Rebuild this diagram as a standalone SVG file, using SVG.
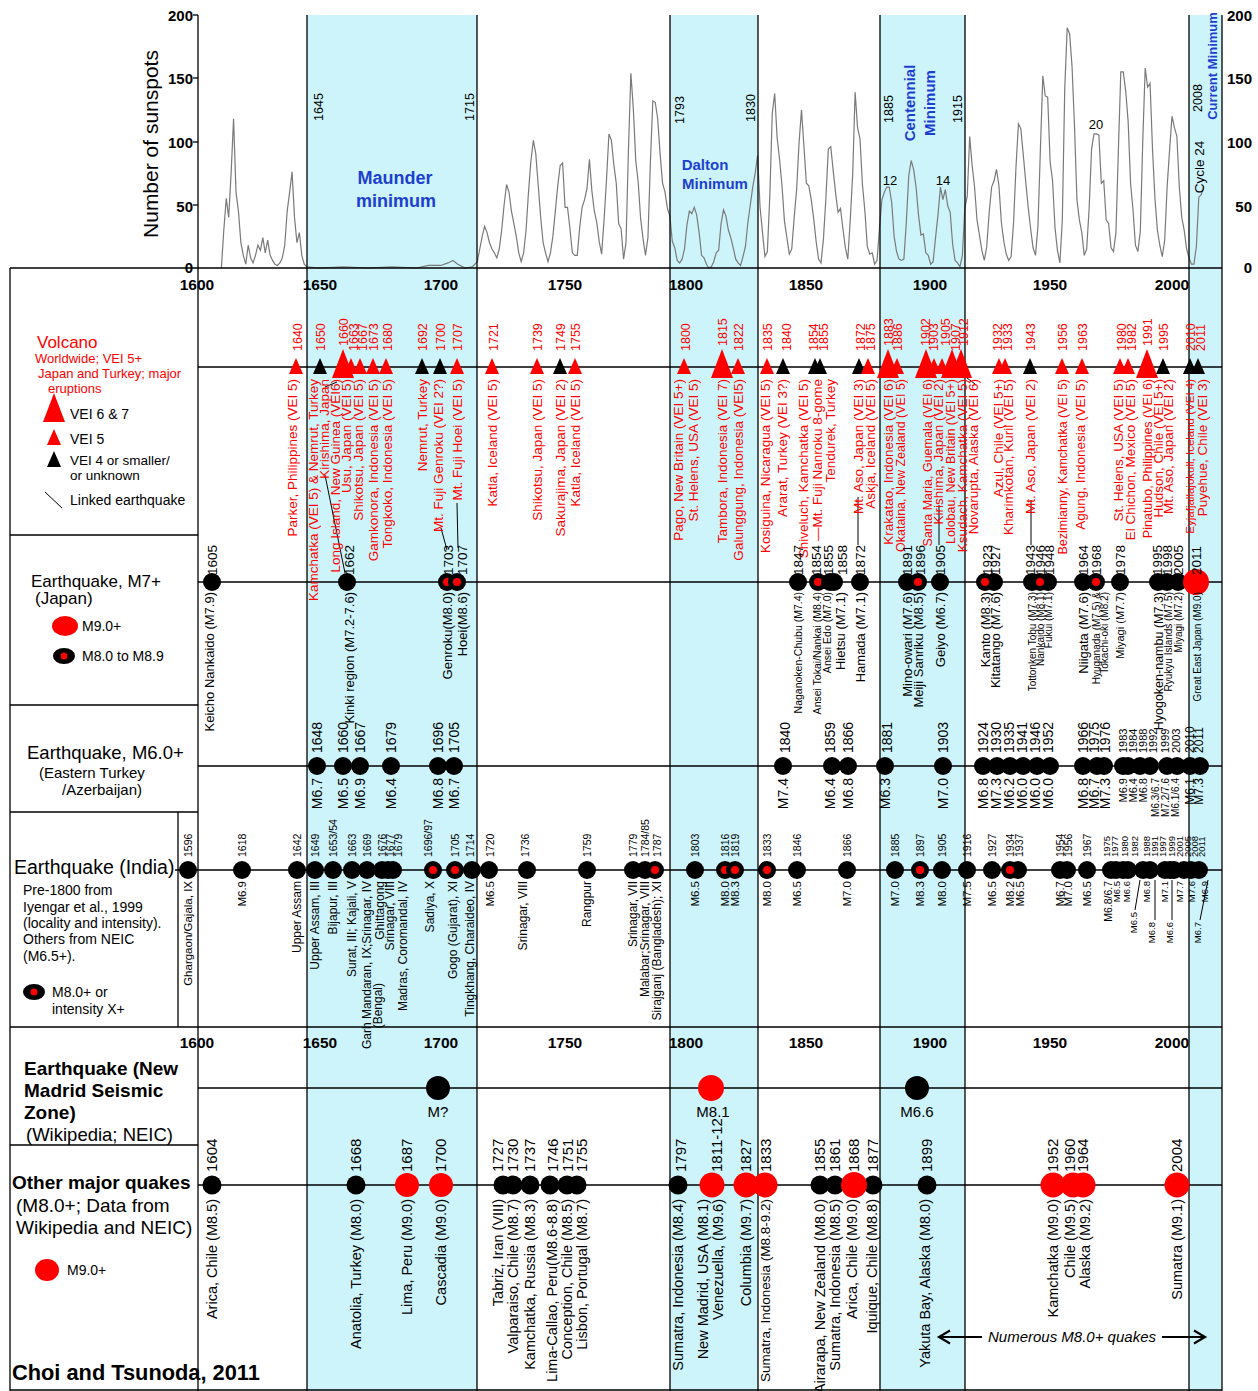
<svg xmlns="http://www.w3.org/2000/svg" xmlns:xlink="http://www.w3.org/1999/xlink" width="1258" height="1391" viewBox="0 0 1258 1391">
<style>
text{font-family:"Liberation Sans",Arial,Helvetica,sans-serif;fill:#000}
.r{fill:#f00}
.e{text-anchor:end}
.m{text-anchor:middle}
.b{font-weight:bold}
.bl{fill:#1d3fcf;font-weight:bold}
.ln{stroke:#000;stroke-width:1.3;fill:none}
.lk{stroke:#000;stroke-width:1;fill:none}
.sh{fill:#cdf4fa}
.f9{font-size:9.5px}.f10{font-size:10px}.f105{font-size:10.5px}.f11{font-size:11px}.f115{font-size:11.5px}.f12{font-size:12px}.f125{font-size:12.5px}.f13{font-size:13px}.f135{font-size:13.5px}.f14{font-size:14px}.f145{font-size:14.5px}.f15{font-size:15px}.f155{font-size:15.5px}.f16{font-size:16px}.f17{font-size:17px}.f18{font-size:18px}.f185{font-size:18.5px}.f19{font-size:19px}.f195{font-size:19.5px}.f20{font-size:20px}.f21{font-size:21px}.f22{font-size:21.8px}
</style>
<defs>
<path id="tS" d="M0,-9 L7,7 L-7,7Z"/>
<path id="tB" d="M0,-18 L11,11 L-11,11Z"/>
<circle id="d9" r="9"/>
<g id="m8"><circle r="9" fill="#000"/><circle r="4" fill="#f00"/></g>
<marker id="arr" markerWidth="16" markerHeight="16" refX="13" refY="8" orient="auto" markerUnits="userSpaceOnUse"><path d="M2,1.5 L13,8 L2,14.5" fill="none" stroke="#000" stroke-width="2.2"/></marker>
</defs>
<rect width="1258" height="1391" fill="#fff"/>

<g id="shading">
<rect class="sh" x="307" y="15" width="170" height="1376"/>
<rect class="sh" x="670" y="15" width="88" height="1376"/>
<rect class="sh" x="880" y="15" width="85" height="1376"/>
<rect class="sh" x="1189" y="15" width="33" height="1376"/>
</g>

<g id="sunspots">
<polyline transform="translate(197 268) scale(2.4375 -1.265)" fill="none" stroke="#7a7a7a" stroke-width="1.2" vector-effect="non-scaling-stroke" points="10,0 11,30 12,55 13,40 14,75 15,118 16,60 17,45 18,20 19,10 20,3 21,18 22,8 23,4 24,10 25,18 26,14 27,24 28,12 29,22 30,10 31,6 32,3 33,2 34,4 35,8 36,18 37,45 38,60 39,76 40,40 41,20 42,28 43,10 44,3 45,1 50,0 60,1 70,0 80,1 90,0 95,2 100,2 103,4 105,6 107,3 110,0 113,1 115,5 116,15 117,25 118,33 119,28 120,20 121,15 122,12 123,8 124,15 125,30 126,50 127,66 128,60 129,45 130,35 131,25 132,12 133,5 134,12 135,30 136,60 137,85 138,101 139,90 140,65 141,40 142,20 143,12 144,5 145,12 146,25 147,45 148,65 149,81 150,83 151,48 152,48 153,31 154,12 155,10 156,10 157,32 158,48 159,54 160,63 161,86 162,61 163,45 164,36 165,21 166,11 167,38 168,70 169,106 170,101 171,82 172,67 173,35 174,31 175,7 176,20 177,93 178,154 179,126 180,85 181,68 182,39 183,23 184,10 185,24 186,83 187,132 188,131 189,118 190,90 191,67 192,60 193,47 194,41 195,21 196,16 197,6 198,4 199,7 200,15 201,34 202,45 203,43 204,48 205,42 206,28 207,10 208,8 209,3 210,0 211,1 212,5 213,12 214,14 215,35 216,46 217,41 218,30 219,24 220,16 221,7 222,4 223,2 224,9 225,17 226,36 227,50 228,64 229,75 230,89 231,48 232,28 233,9 234,13 235,57 236,122 237,138 238,103 239,86 240,65 241,37 242,24 243,11 244,15 245,40 246,62 247,99 248,125 249,96 250,67 251,65 252,54 253,39 254,21 255,7 256,4 257,23 258,55 259,94 260,96 261,77 262,59 263,44 264,47 265,31 266,16 267,7 268,38 269,74 270,139 271,111 272,102 273,66 274,45 275,17 276,11 277,12 278,3 279,6 280,32 281,54 282,60 283,64 284,64 285,52 286,25 287,13 288,7 289,6 290,7 291,36 292,73 293,85 294,78 295,64 296,42 297,26 298,27 299,12 300,10 301,3 302,5 303,24 304,42 305,64 306,54 307,62 308,49 309,44 310,19 311,6 312,4 313,1 314,10 315,47 316,57 317,104 318,81 319,64 320,38 321,26 322,14 323,6 324,17 325,44 326,64 327,69 328,78 329,65 330,36 331,21 332,11 333,6 334,9 335,36 336,80 337,114 338,110 339,89 340,68 341,48 342,31 343,16 344,10 345,33 346,93 347,152 348,136 349,135 350,84 351,69 352,32 353,14 354,4 355,38 356,142 357,190 358,185 359,159 360,112 361,54 362,38 363,28 364,10 365,15 366,47 367,94 368,106 369,106 370,105 371,67 372,69 373,38 374,35 375,16 376,13 377,28 378,93 379,155 380,155 381,140 382,116 383,67 384,46 385,18 386,13 387,29 388,100 389,158 390,143 391,146 392,94 393,55 394,30 395,18 396,9 397,22 398,64 399,93 400,120 401,111 402,104 403,64 404,40 405,30 406,15 407,8 408,3 409,3 410,17 411,56 412,58 413,65"/>
</g>

<g id="frame">
<line class="ln" x1="198" y1="15" x2="198" y2="1391"/>
<line class="ln" x1="307" y1="15" x2="307" y2="1391"/>
<line class="ln" x1="477" y1="15" x2="477" y2="1391"/>
<line class="ln" x1="670" y1="15" x2="670" y2="1391"/>
<line class="ln" x1="758" y1="15" x2="758" y2="1391"/>
<line class="ln" x1="880" y1="15" x2="880" y2="1391"/>
<line class="ln" x1="965" y1="15" x2="965" y2="1391"/>
<line class="ln" x1="1189" y1="15" x2="1189" y2="1391"/>
<line class="ln" x1="1222" y1="15" x2="1222" y2="1391"/>
<line class="ln" x1="193" y1="15" x2="198" y2="15"/>
<line class="ln" x1="193" y1="78" x2="198" y2="78"/>
<line class="ln" x1="193" y1="142" x2="198" y2="142"/>
<line class="ln" x1="193" y1="205" x2="198" y2="205"/>
<line class="ln" x1="10" y1="268" x2="1222" y2="268"/>
<line class="ln" x1="198" y1="367" x2="1222" y2="367"/>
<line class="ln" x1="198" y1="582" x2="1222" y2="582"/>
<line class="ln" x1="198" y1="766" x2="1222" y2="766"/>
<line class="ln" x1="175" y1="870" x2="1222" y2="870"/>
<line class="ln" x1="10" y1="1027" x2="1222" y2="1027"/>
<line class="ln" x1="198" y1="1088" x2="1222" y2="1088"/>
<line class="ln" x1="198" y1="1185" x2="1222" y2="1185"/>
<line class="ln" x1="10" y1="1390" x2="1222" y2="1390"/>
<line class="ln" x1="10" y1="268" x2="10" y2="1391"/>
<line class="ln" x1="10" y1="535" x2="198" y2="535"/>
<line class="ln" x1="10" y1="705" x2="198" y2="705"/>
<line class="ln" x1="10" y1="812" x2="198" y2="812"/>
<line class="ln" x1="178" y1="812" x2="178" y2="1027"/>
<line class="ln" x1="10" y1="1145" x2="198" y2="1145"/>
</g>

<g id="plot-labels">
<text class="f21 m" transform="translate(158 144) rotate(-90)">Number of sunspots</text>
<text class="f15 b e" x="193" y="21">200</text>
<text class="f15 b e" x="193" y="84">150</text>
<text class="f15 b e" x="193" y="148">100</text>
<text class="f15 b e" x="193" y="212">50</text>
<text class="f15 b e" x="193" y="273">0</text>
<text class="f15 b e" x="1252" y="21">200</text>
<text class="f15 b e" x="1252" y="84">150</text>
<text class="f15 b e" x="1252" y="148">100</text>
<text class="f15 b e" x="1252" y="212">50</text>
<text class="f15 b e" x="1252" y="273">0</text>
<text class="f155 b m" x="197" y="290">1600</text>
<text class="f155 b m" x="320" y="290">1650</text>
<text class="f155 b m" x="441" y="290">1700</text>
<text class="f155 b m" x="565" y="290">1750</text>
<text class="f155 b m" x="686" y="290">1800</text>
<text class="f155 b m" x="806" y="290">1850</text>
<text class="f155 b m" x="930" y="290">1900</text>
<text class="f155 b m" x="1050" y="290">1950</text>
<text class="f155 b m" x="1172" y="290">2000</text>
<text class="f155 b m" x="197" y="1048">1600</text>
<text class="f155 b m" x="320" y="1048">1650</text>
<text class="f155 b m" x="441" y="1048">1700</text>
<text class="f155 b m" x="565" y="1048">1750</text>
<text class="f155 b m" x="686" y="1048">1800</text>
<text class="f155 b m" x="806" y="1048">1850</text>
<text class="f155 b m" x="930" y="1048">1900</text>
<text class="f155 b m" x="1050" y="1048">1950</text>
<text class="f155 b m" x="1172" y="1048">2000</text>
<text class="f125 m" transform="translate(322.5 107) rotate(-90)">1645</text>
<text class="f125 m" transform="translate(473.5 107) rotate(-90)">1715</text>
<text class="f125 m" transform="translate(683.5 110) rotate(-90)">1793</text>
<text class="f125 m" transform="translate(754.5 108) rotate(-90)">1830</text>
<text class="f125 m" transform="translate(892.5 109) rotate(-90)">1885</text>
<text class="f125 m" transform="translate(961.5 109) rotate(-90)">1915</text>
<text class="f125 m" transform="translate(1201.5 98) rotate(-90)">2008</text>
<text class="f135 m" transform="translate(1204 167) rotate(-90)">Cycle 24</text>
<text class="bl f13 m" transform="translate(1217 66) rotate(-90)">Current Minimum</text>
<text class="bl f15 m" transform="translate(915 103) rotate(-90)">Centennial</text>
<text class="bl f15 m" transform="translate(935 103) rotate(-90)">Minimum</text>
<text class="bl f18 m" x="395" y="184">Maunder</text>
<text class="bl f18 m" x="396" y="207">minimum</text>
<text class="bl f15 m" x="705" y="170">Dalton</text>
<text class="bl f15 m" x="715" y="189">Minimum</text>
<text class="f13 m" x="890" y="185">12</text>
<text class="f13 m" x="943" y="185">14</text>
<text class="f13 m" x="1096" y="129">20</text>
</g>

<g id="legend">
<text class="r f17" x="37" y="348">Volcano</text>
<text class="r f13" x="35" y="363">Worldwide; VEI 5+</text>
<text class="r f13" x="38" y="378">Japan and Turkey; major</text>
<text class="r f13" x="48" y="393">eruptions</text>
<use href="#tB" x="54" y="411" fill="#f00"/>
<text class="f14" x="70" y="419">VEI 6 &amp; 7</text>
<use href="#tS" x="54" y="438" fill="#f00"/>
<text class="f14" x="70" y="444">VEI 5</text>
<use href="#tS" x="54" y="460" fill="#000"/>
<text class="f135" x="70" y="465">VEI 4 or smaller/</text>
<text class="f135" x="70" y="480">or unknown</text>
<line class="lk" x1="45" y1="492" x2="62" y2="508"/>
<text class="f14" x="70" y="505">Linked earthquake</text>
<text class="f17" x="31" y="587">Earthquake, M7+</text>
<text class="f17" x="35" y="604">(Japan)</text>
<ellipse cx="65" cy="626" rx="13" ry="10" fill="#f00"/>
<text class="f14" x="82" y="631">M9.0+</text>
<ellipse cx="64" cy="656" rx="11" ry="8" fill="#000"/>
<circle cx="64" cy="656" r="3.5" fill="#f00"/>
<text class="f14" x="82" y="661">M8.0 to M8.9</text>
<text class="f185" x="27" y="759">Earthquake, M6.0+</text>
<text class="f15" x="39" y="778">(Eastern Turkey</text>
<text class="f15" x="62" y="795">/Azerbaijan)</text>
<text class="f195" x="14" y="874">Earthquake (India)</text>
<text class="f14" x="23" y="895">Pre-1800 from</text>
<text class="f14" x="23" y="912">Iyengar et al., 1999</text>
<text class="f14" x="23" y="928">(locality and intensity).</text>
<text class="f14" x="23" y="944">Others from NEIC</text>
<text class="f14" x="23" y="961">(M6.5+).</text>
<ellipse cx="34" cy="992" rx="11" ry="8" fill="#000"/>
<circle cx="34" cy="992" r="3.5" fill="#f00"/>
<text class="f14" x="52" y="997">M8.0+ or</text>
<text class="f14" x="52" y="1014">intensity X+</text>
<text class="f19 b" x="24" y="1075">Earthquake (New</text>
<text class="f19 b" x="24" y="1097">Madrid Seismic</text>
<text class="f19 b" x="24" y="1119">Zone)</text>
<text class="f185" x="26" y="1141">(Wikipedia; NEIC)</text>
<text class="f19 b" x="12" y="1189">Other major quakes</text>
<text class="f19" x="16" y="1212">(M8.0+; Data from</text>
<text class="f19" x="16" y="1234">Wikipedia and NEIC)</text>
<ellipse cx="47" cy="1270" rx="12" ry="11" fill="#f00"/>
<text class="f14" x="67" y="1275">M9.0+</text>
<text class="f22 b" x="12" y="1380">Choi and Tsunoda, 2011</text>
</g>

<g id="links">
<line class="lk" x1="325" y1="387" x2="337" y2="382"/>
<line class="lk" x1="325" y1="475" x2="345" y2="573"/>
<line class="lk" x1="441" y1="528" x2="447" y2="550"/>
<line class="lk" x1="457" y1="503" x2="458" y2="548"/>
<line class="lk" x1="858" y1="497" x2="858" y2="545"/>
<line class="lk" x1="939" y1="505" x2="939" y2="545"/>
<line class="lk" x1="1031" y1="500" x2="1031" y2="545"/>
<line class="lk" x1="963" y1="375" x2="975" y2="384"/>
<line class="lk" x1="1135" y1="910" x2="1140" y2="880"/>
<line class="lk" x1="1155" y1="920" x2="1155" y2="880"/>
<line class="lk" x1="1172" y1="920" x2="1172" y2="880"/>
<line class="lk" x1="1200" y1="920" x2="1208" y2="880"/>
<line x1="982" y1="1337" x2="939" y2="1337" stroke="#000" stroke-width="2" marker-end="url(#arr)"/>
<line x1="1162" y1="1337" x2="1205" y2="1337" stroke="#000" stroke-width="2" marker-end="url(#arr)"/>
<text x="1072" y="1342" class="f15 m" font-style="italic">Numerous M8.0+ quakes</text>
</g>

<g id="volcanoes">
<use href="#tS" x="296" y="367" fill="#f00"/>
<use href="#tS" x="320" y="367" fill="#000"/>
<use href="#tB" x="343" y="367" fill="#f00"/>
<use href="#tS" x="351" y="367" fill="#f00"/>
<use href="#tS" x="360" y="367" fill="#f00"/>
<use href="#tS" x="373" y="367" fill="#f00"/>
<use href="#tS" x="386" y="367" fill="#f00"/>
<use href="#tS" x="422" y="367" fill="#000"/>
<use href="#tS" x="440" y="367" fill="#000"/>
<use href="#tS" x="457" y="367" fill="#f00"/>
<use href="#tS" x="492" y="367" fill="#f00"/>
<use href="#tS" x="537" y="367" fill="#f00"/>
<use href="#tS" x="560" y="367" fill="#000"/>
<use href="#tS" x="575" y="367" fill="#f00"/>
<use href="#tS" x="684" y="367" fill="#f00"/>
<use href="#tB" x="722" y="367" fill="#f00"/>
<use href="#tS" x="738" y="367" fill="#f00"/>
<use href="#tS" x="767" y="367" fill="#f00"/>
<use href="#tS" x="783" y="367" fill="#000"/>
<use href="#tS" x="815" y="367" fill="#000"/>
<use href="#tS" x="820" y="367" fill="#000"/>
<use href="#tS" x="859" y="367" fill="#000"/>
<use href="#tS" x="868" y="367" fill="#f00"/>
<use href="#tB" x="888" y="367" fill="#f00"/>
<use href="#tS" x="897" y="367" fill="#f00"/>
<use href="#tB" x="926" y="367" fill="#f00"/>
<use href="#tS" x="934" y="367" fill="#f00"/>
<use href="#tS" x="942" y="367" fill="#f00"/>
<use href="#tB" x="952" y="367" fill="#f00"/>
<use href="#tB" x="961" y="367" fill="#f00"/>
<use href="#tS" x="999" y="367" fill="#f00"/>
<use href="#tS" x="1005" y="367" fill="#f00"/>
<use href="#tS" x="1030" y="367" fill="#000"/>
<use href="#tS" x="1062" y="367" fill="#f00"/>
<use href="#tS" x="1082" y="367" fill="#f00"/>
<use href="#tS" x="1120" y="367" fill="#f00"/>
<use href="#tS" x="1128" y="367" fill="#f00"/>
<use href="#tB" x="1147" y="367" fill="#f00"/>
<use href="#tS" x="1163" y="367" fill="#000"/>
<use href="#tS" x="1190" y="367" fill="#000"/>
<use href="#tS" x="1198" y="367" fill="#000"/>
</g>

<g id="volcano-years" class="f125">
<text class="r" transform="translate(301.5 351) rotate(-90)">1640</text>
<text class="r" transform="translate(324.5 351) rotate(-90)">1650</text>
<text class="r" transform="translate(347.5 346) rotate(-90)">1660</text>
<text class="r" transform="translate(357.5 351) rotate(-90)">1663</text>
<text class="r" transform="translate(366.5 351) rotate(-90)">1667</text>
<text class="r" transform="translate(377.5 351) rotate(-90)">1673</text>
<text class="r" transform="translate(391.5 351) rotate(-90)">1680</text>
<text class="r" transform="translate(426.5 351) rotate(-90)">1692</text>
<text class="r" transform="translate(444.5 351) rotate(-90)">1700</text>
<text class="r" transform="translate(461.5 351) rotate(-90)">1707</text>
<text class="r" transform="translate(497.5 351) rotate(-90)">1721</text>
<text class="r" transform="translate(541.5 351) rotate(-90)">1739</text>
<text class="r" transform="translate(564.5 351) rotate(-90)">1749</text>
<text class="r" transform="translate(579.5 351) rotate(-90)">1755</text>
<text class="r" transform="translate(689.5 351) rotate(-90)">1800</text>
<text class="r" transform="translate(726.5 346) rotate(-90)">1815</text>
<text class="r" transform="translate(742.5 351) rotate(-90)">1822</text>
<text class="r" transform="translate(771.5 351) rotate(-90)">1835</text>
<text class="r" transform="translate(790.5 351) rotate(-90)">1840</text>
<text class="r" transform="translate(817.5 351) rotate(-90)">1854</text>
<text class="r" transform="translate(827.5 351) rotate(-90)">1855</text>
<text class="r" transform="translate(864.5 351) rotate(-90)">1872</text>
<text class="r" transform="translate(874.5 351) rotate(-90)">1875</text>
<text class="r" transform="translate(892.5 346) rotate(-90)">1883</text>
<text class="r" transform="translate(901.5 351) rotate(-90)">1886</text>
<text class="r" transform="translate(929.5 346) rotate(-90)">1902</text>
<text class="r" transform="translate(937.5 351) rotate(-90)">1903</text>
<text class="r" transform="translate(949.5 346) rotate(-90)">1905</text>
<text class="r" transform="translate(959.5 351) rotate(-90)">1907</text>
<text class="r" transform="translate(967.5 346) rotate(-90)">1912</text>
<text class="r" transform="translate(1001.5 351) rotate(-90)">1932</text>
<text class="r" transform="translate(1011.5 351) rotate(-90)">1933</text>
<text class="r" transform="translate(1034.5 351) rotate(-90)">1943</text>
<text class="r" transform="translate(1066.5 351) rotate(-90)">1956</text>
<text class="r" transform="translate(1086.5 351) rotate(-90)">1963</text>
<text class="r" transform="translate(1125.5 351) rotate(-90)">1980</text>
<text class="r" transform="translate(1135.5 351) rotate(-90)">1982</text>
<text class="r" transform="translate(1151.5 346) rotate(-90)">1991</text>
<text class="r" transform="translate(1167.5 351) rotate(-90)">1995</text>
<text class="r" transform="translate(1194.5 351) rotate(-90)">2010</text>
<text class="r" transform="translate(1204.5 351) rotate(-90)">2011</text>
</g>

<g id="volcano-labels" class="f135">
<text class="r e" transform="translate(296.8 379) rotate(-90)">Parker, Philippines (VEI 5)</text>
<text class="r e" transform="translate(317.8 379) rotate(-90)">Kamchatka (VEI 5) &amp; Nemrut, Turkey</text>
<text class="r e" transform="translate(328.8 379) rotate(-90)">Kirishima, Japan</text>
<text class="r e" transform="translate(339.8 379) rotate(-90)">Long Island, New Guinea (VEI6)</text>
<text class="r e" transform="translate(350.8 379) rotate(-90)">Usu, Japan (VEI 5)</text>
<text class="r e" transform="translate(362.8 379) rotate(-90)">Shikotsu, Japan (VEI 5)</text>
<text class="r e" transform="translate(377.8 379) rotate(-90)">Gamkonora, Indonesia (VEI 5)</text>
<text class="r e" transform="translate(391.8 379) rotate(-90)">Tongkoko, Indonesia (VEI 5)</text>
<text class="r e" transform="translate(426.8 379) rotate(-90)">Nemrut, Turkey</text>
<text class="r e" transform="translate(442.8 379) rotate(-90)">Mt. Fuji Genroku (VEI 2?)</text>
<text class="r e" transform="translate(461.8 379) rotate(-90)">Mt. Fuji Hoei (VEI 5)</text>
<text class="r e" transform="translate(496.8 379) rotate(-90)">Katla, Iceland (VEI 5)</text>
<text class="r e" transform="translate(541.8 379) rotate(-90)">Shikotsu, Japan (VEI 5)</text>
<text class="r e" transform="translate(564.8 379) rotate(-90)">Sakurajima, Japan (VEI 2)</text>
<text class="r e" transform="translate(579.8 379) rotate(-90)">Katla, Iceland (VEI 5)</text>
<text class="r e" transform="translate(682.8 379) rotate(-90)">Pago, New Britain (VEI 5+)</text>
<text class="r e" transform="translate(697.8 379) rotate(-90)">St. Helens, USA (VEI 5)</text>
<text class="r e" transform="translate(726.8 379) rotate(-90)">Tambora, Indonesia (VEI 7)</text>
<text class="r e" transform="translate(742.8 379) rotate(-90)">Galunggung, Indonesia (VEI5)</text>
<text class="r e" transform="translate(769.8 379) rotate(-90)">Kosiguina, Nicaragua (VEI 5)</text>
<text class="r e" transform="translate(786.8 379) rotate(-90)">Ararat, Turkey (VEI 3?)</text>
<text class="r e" transform="translate(807.8 379) rotate(-90)">Shiveluch, Kamchatka (VEI 5)</text>
<text class="r e" transform="translate(821.8 379) rotate(-90)">—Mt. Fuji Nanroku 8-gome</text>
<text class="r e" transform="translate(834.8 379) rotate(-90)">Tendurek, Turkey</text>
<text class="r e" transform="translate(862.8 379) rotate(-90)">Mt. Aso, Japan (VEI 3)</text>
<text class="r e" transform="translate(874.8 379) rotate(-90)">Askja, Iceland (VEI 5)</text>
<text class="r e" transform="translate(892.8 379) rotate(-90)">Krakatao, Indonesia (VEI 6)</text>
<text class="r e f125" transform="translate(904.5 379) rotate(-90)">Okataina, New Zealand (VEI 5)</text>
<text class="r e f125" transform="translate(931.5 379) rotate(-90)">Santa Maria, Guemala (VEI 6)</text>
<text class="r e" transform="translate(942.8 379) rotate(-90)">Kirishima, Japan (VEI 2)</text>
<text class="r e f125" transform="translate(954.5 379) rotate(-90)">Lolobau, New Britain (VEI 5+)</text>
<text class="r e" transform="translate(966.8 379) rotate(-90)">Ksudach, Kamchatka (VEI 5)</text>
<text class="r e" transform="translate(977.8 379) rotate(-90)">Novarupta, Alaska (VEI 6)</text>
<text class="r e" transform="translate(1002.8 379) rotate(-90)">Azul, Chile (VEI 5+)</text>
<text class="r e" transform="translate(1012.8 379) rotate(-90)">Kharimkotan, Kuril (VEI 5)</text>
<text class="r e" transform="translate(1034.8 379) rotate(-90)">Mt. Aso, Japan (VEI 2)</text>
<text class="r e f125" transform="translate(1066.5 379) rotate(-90)">Bezimianny, Kamchatka (VEI 5)</text>
<text class="r e" transform="translate(1084.8 379) rotate(-90)">Agung, Indonesia (VEI 5)</text>
<text class="r e" transform="translate(1122.8 379) rotate(-90)">St. Helens, USA (VEI 5)</text>
<text class="r e" transform="translate(1134.8 379) rotate(-90)">El Chichon, Mexico (VEI 5)</text>
<text class="r e f125" transform="translate(1151.5 379) rotate(-90)">Pinatubo, Philippines (VEI 6)</text>
<text class="r e" transform="translate(1162.8 379) rotate(-90)">Hudson, Chile (VEI 5+)</text>
<text class="r e" transform="translate(1172.8 379) rotate(-90)">Mt. Aso, Japan (VEI 2)</text>
<text class="r e f115" transform="translate(1194.2 379) rotate(-90)">Eyjafjallajokull, Iceland (VEI 4)</text>
<text class="r e" transform="translate(1206.8 379) rotate(-90)">Puyehue, Chile (VEI 3)</text>
</g>

<g id="japan">
<use href="#d9" x="212" y="582"/>
<use href="#d9" x="347" y="582"/>
<use href="#m8" x="447" y="582"/>
<use href="#m8" x="457" y="582"/>
<use href="#d9" x="798" y="582"/>
<use href="#m8" x="818" y="582"/>
<use href="#d9" x="830" y="582"/>
<use href="#d9" x="834" y="582"/>
<use href="#d9" x="860" y="582"/>
<use href="#d9" x="907" y="582"/>
<use href="#m8" x="918" y="582"/>
<use href="#d9" x="940" y="582"/>
<use href="#d9" x="994" y="582"/>
<use href="#m8" x="985" y="582"/>
<use href="#d9" x="1032" y="582"/>
<use href="#d9" x="1048" y="582"/>
<use href="#m8" x="1040" y="582"/>
<use href="#d9" x="1083" y="582"/>
<use href="#m8" x="1096" y="582"/>
<use href="#d9" x="1120" y="582"/>
<use href="#d9" x="1158" y="582"/>
<use href="#d9" x="1167" y="582"/>
<use href="#d9" x="1178" y="582"/>
<circle cx="1196" cy="582" r="13" fill="#f00"/>
<g class="f135">
<text transform="translate(216.9 575) rotate(-90)">1605</text>
<text transform="translate(353.9 575) rotate(-90)">1662</text>
<text transform="translate(452.9 575) rotate(-90)">1703</text>
<text transform="translate(466.9 575) rotate(-90)">1707</text>
<text transform="translate(802.9 575) rotate(-90)">1847</text>
<text transform="translate(820.9 575) rotate(-90)">1854</text>
<text transform="translate(832.9 575) rotate(-90)">1855</text>
<text transform="translate(846.9 575) rotate(-90)">1858</text>
<text transform="translate(864.9 575) rotate(-90)">1872</text>
<text transform="translate(911.9 575) rotate(-90)">1891</text>
<text transform="translate(924.9 575) rotate(-90)">1896</text>
<text transform="translate(944.9 575) rotate(-90)">1905</text>
<text transform="translate(991.9 575) rotate(-90)">1923</text>
<text transform="translate(999.9 575) rotate(-90)">1927</text>
<text transform="translate(1034.9 575) rotate(-90)">1943</text>
<text transform="translate(1044.9 575) rotate(-90)">1946</text>
<text transform="translate(1053.9 575) rotate(-90)">1948</text>
<text transform="translate(1087.9 575) rotate(-90)">1964</text>
<text transform="translate(1100.9 575) rotate(-90)">1968</text>
<text transform="translate(1124.9 575) rotate(-90)">1978</text>
<text transform="translate(1161.9 575) rotate(-90)">1995</text>
<text transform="translate(1171.9 575) rotate(-90)">1998</text>
<text transform="translate(1182.9 575) rotate(-90)">2005</text>
<text transform="translate(1200.9 575) rotate(-90)">2011</text>
</g>
<text class="f13 e" transform="translate(213.7 592) rotate(-90)">Keicho Nankaido (M7.9)</text>
<text class="f13 e" transform="translate(353.7 592) rotate(-90)">Kinki region (M7.2-7.6)</text>
<text class="f13 e" transform="translate(451.7 592) rotate(-90)">Genroku(M8.0)</text>
<text class="f13 e" transform="translate(466.7 592) rotate(-90)">Hoei(M8.6)</text>
<text class="f105 e" transform="translate(801.8 592) rotate(-90)">Naganoken-Chubu (M7.4)</text>
<text class="f105 e" transform="translate(820.8 592) rotate(-90)">Ansei Tokai/Nankai (M8.4)</text>
<text class="f105 e" transform="translate(830.8 592) rotate(-90)">Ansei Edo (M7.0)</text>
<text class="f13 e" transform="translate(844.7 592) rotate(-90)">Hietsu (M7.1)</text>
<text class="f13 e" transform="translate(864.7 592) rotate(-90)">Hamada (M7.1)</text>
<text class="f13 e" transform="translate(911.7 592) rotate(-90)">Mino-owari (M7.6)</text>
<text class="f13 e" transform="translate(922.7 592) rotate(-90)">Meiji Sanriku (M8.5)</text>
<text class="f13 e" transform="translate(944.7 592) rotate(-90)">Geiyo (M6.7)</text>
<text class="f13 e" transform="translate(989.7 592) rotate(-90)">Kanto (M8.3)</text>
<text class="f13 e" transform="translate(999.7 592) rotate(-90)">Kitatango (M7.6)</text>
<text class="f10 e" transform="translate(1035.6 592) rotate(-90)">Tottonken Tobu (M7.3)</text>
<text class="f10 e" transform="translate(1043.6 592) rotate(-90)">Nankaido (M8.1)</text>
<text class="f10 e" transform="translate(1051.6 592) rotate(-90)">Fukui (M7.1)</text>
<text class="f13 e" transform="translate(1087.7 592) rotate(-90)">Niigata (M7.6)</text>
<text class="f10 e" transform="translate(1099.6 592) rotate(-90)">Hyuganada (M7.5) &amp;</text>
<text class="f10 e" transform="translate(1107.6 592) rotate(-90)">Tokachi-oki (M8.2)</text>
<text class="f11 e" transform="translate(1124 592) rotate(-90)">Miyagi (M7.7)</text>
<text class="f125 e" transform="translate(1162.5 592) rotate(-90)">Hyogoken-nambu (M7.3)</text>
<text class="f10 e" transform="translate(1171.6 592) rotate(-90)">Ryukyu Islands (M7.5)</text>
<text class="f10 e" transform="translate(1181.6 592) rotate(-90)">Miyagi (M7.2)</text>
<text class="f10 e" transform="translate(1200.6 592) rotate(-90)">Great East Japan (M9.0)</text>
</g>

<g id="turkey">
<use href="#d9" x="317" y="766"/><use href="#d9" x="343" y="766"/><use href="#d9" x="360" y="766"/><use href="#d9" x="391" y="766"/><use href="#d9" x="438" y="766"/><use href="#d9" x="454" y="766"/>
<use href="#d9" x="783" y="766"/><use href="#d9" x="832" y="766"/><use href="#d9" x="848" y="766"/><use href="#d9" x="885" y="766"/><use href="#d9" x="943" y="766"/>
<use href="#d9" x="983" y="766"/><use href="#d9" x="997" y="766"/><use href="#d9" x="1010" y="766"/><use href="#d9" x="1023" y="766"/><use href="#d9" x="1037" y="766"/><use href="#d9" x="1050" y="766"/>
<use href="#d9" x="1083" y="766"/><use href="#d9" x="1097" y="766"/><use href="#d9" x="1104" y="766"/>
<use href="#d9" x="1123" y="766"/><use href="#d9" x="1128" y="766"/><use href="#d9" x="1140" y="766"/><use href="#d9" x="1150" y="766"/><use href="#d9" x="1167" y="766"/><use href="#d9" x="1177" y="766"/><use href="#d9" x="1190" y="766"/><use href="#d9" x="1200" y="766"/>
<g class="f14">
<text transform="translate(322 753) rotate(-90)">1648</text>
<text transform="translate(348 753) rotate(-90)">1660</text>
<text transform="translate(365 753) rotate(-90)">1667</text>
<text transform="translate(396 753) rotate(-90)">1679</text>
<text transform="translate(443 753) rotate(-90)">1696</text>
<text transform="translate(459 753) rotate(-90)">1705</text>
<text transform="translate(790 753) rotate(-90)">1840</text>
<text transform="translate(835 753) rotate(-90)">1859</text>
<text transform="translate(853 753) rotate(-90)">1866</text>
<text transform="translate(892 753) rotate(-90)">1881</text>
<text transform="translate(948 753) rotate(-90)">1903</text>
<text transform="translate(988 753) rotate(-90)">1924</text>
<text transform="translate(1001 753) rotate(-90)">1930</text>
<text transform="translate(1014 753) rotate(-90)">1935</text>
<text transform="translate(1027 753) rotate(-90)">1941</text>
<text transform="translate(1040 753) rotate(-90)">1946</text>
<text transform="translate(1053 753) rotate(-90)">1952</text>
<text transform="translate(1088 753) rotate(-90)">1966</text>
<text transform="translate(1099 753) rotate(-90)">1975</text>
<text transform="translate(1110 753) rotate(-90)">1976</text>
<text class="e" transform="translate(322 778) rotate(-90)">M6.7</text>
<text class="e" transform="translate(348 778) rotate(-90)">M6.5</text>
<text class="e" transform="translate(365 778) rotate(-90)">M6.9</text>
<text class="e" transform="translate(396 778) rotate(-90)">M6.4</text>
<text class="e" transform="translate(443 778) rotate(-90)">M6.8</text>
<text class="e" transform="translate(459 778) rotate(-90)">M6.7</text>
<text class="e" transform="translate(788 778) rotate(-90)">M7.4</text>
<text class="e" transform="translate(835 778) rotate(-90)">M6.4</text>
<text class="e" transform="translate(853 778) rotate(-90)">M6.8</text>
<text class="e" transform="translate(890 778) rotate(-90)">M6.3</text>
<text class="e" transform="translate(948 778) rotate(-90)">M7.0</text>
<text class="e" transform="translate(988 778) rotate(-90)">M6.8</text>
<text class="e" transform="translate(1001 778) rotate(-90)">M7.3</text>
<text class="e" transform="translate(1014 778) rotate(-90)">M6.2</text>
<text class="e" transform="translate(1027 778) rotate(-90)">M6.0</text>
<text class="e" transform="translate(1040 778) rotate(-90)">M6.0</text>
<text class="e" transform="translate(1053 778) rotate(-90)">M6.0</text>
<text class="e" transform="translate(1088 778) rotate(-90)">M6.8</text>
<text class="e" transform="translate(1099 778) rotate(-90)">M6.7</text>
<text class="e" transform="translate(1110 778) rotate(-90)">M7.3</text>
</g>
<g class="f11">
<text transform="translate(1127 753) rotate(-90)">1983</text>
<text transform="translate(1137 753) rotate(-90)">1984</text>
<text transform="translate(1147 753) rotate(-90)">1988</text>
<text transform="translate(1157 753) rotate(-90)">1992</text>
<text transform="translate(1169 753) rotate(-90)">1999</text>
<text transform="translate(1180 753) rotate(-90)">2003</text>
<text class="e" transform="translate(1127 778) rotate(-90)">M6.9</text>
<text class="e" transform="translate(1137 778) rotate(-90)">M6.4</text>
<text class="e" transform="translate(1147 778) rotate(-90)">M6.8</text>
<text class="e f10" transform="translate(1159 778) rotate(-90)">M6.3/6.7</text>
<text class="e f10" transform="translate(1169 778) rotate(-90)">M7.2/7.6</text>
<text class="e f10" transform="translate(1179 778) rotate(-90)">M6.1/6.4</text>
</g>
<g class="f12">
<text transform="translate(1194.3 753) rotate(-90)">2010</text>
<text transform="translate(1203.3 753) rotate(-90)">2011</text>
<text class="e" transform="translate(1194.3 778) rotate(-90)">M6.1</text>
<text class="e" transform="translate(1203.3 778) rotate(-90)">M7.3</text>
</g>
</g>

<g id="india">
<use href="#d9" x="188" y="870"/><use href="#d9" x="242" y="870"/><use href="#d9" x="297" y="870"/><use href="#d9" x="315" y="870"/><use href="#d9" x="333" y="870"/><use href="#d9" x="352" y="870"/><use href="#d9" x="367" y="870"/><use href="#d9" x="382" y="870"/><use href="#d9" x="388" y="870"/><use href="#d9" x="393" y="870"/>
<use href="#m8" x="433" y="870"/><use href="#m8" x="455" y="870"/><use href="#d9" x="472" y="870"/><use href="#d9" x="489" y="870"/><use href="#d9" x="527" y="870"/><use href="#d9" x="587" y="870"/><use href="#d9" x="633" y="870"/><use href="#d9" x="645" y="870"/><use href="#m8" x="655" y="870"/>
<use href="#d9" x="695" y="870"/><use href="#m8" x="725" y="870"/><use href="#m8" x="735" y="870"/><use href="#m8" x="767" y="870"/><use href="#d9" x="797" y="870"/><use href="#d9" x="847" y="870"/>
<use href="#d9" x="895" y="870"/><use href="#m8" x="920" y="870"/><use href="#d9" x="942" y="870"/><use href="#d9" x="967" y="870"/><use href="#d9" x="992" y="870"/><use href="#d9" x="1018" y="870"/><use href="#m8" x="1010" y="870"/>
<use href="#d9" x="1060" y="870"/><use href="#d9" x="1067" y="870"/><use href="#d9" x="1087" y="870"/>
<use href="#d9" x="1111" y="870"/><use href="#d9" x="1116" y="870"/><use href="#d9" x="1123" y="870"/><use href="#d9" x="1128" y="870"/><use href="#d9" x="1143" y="870"/><use href="#d9" x="1150" y="870"/><use href="#d9" x="1165" y="870"/><use href="#d9" x="1170" y="870"/><use href="#d9" x="1174" y="870"/><use href="#d9" x="1184" y="870"/><use href="#d9" x="1191" y="870"/><use href="#d9" x="1199" y="870"/>
<g class="f105">
<text transform="translate(191.8 857) rotate(-90)">1596</text>
<text transform="translate(245.8 857) rotate(-90)">1618</text>
<text transform="translate(300.8 857) rotate(-90)">1642</text>
<text transform="translate(318.8 857) rotate(-90)">1649</text>
<text transform="translate(336.8 857) rotate(-90)">1653/54</text>
<text transform="translate(355.8 857) rotate(-90)">1663</text>
<text transform="translate(370.8 857) rotate(-90)">1669</text>
<text transform="translate(385.8 857) rotate(-90)">1676</text>
<text transform="translate(393.8 857) rotate(-90)">1677</text>
<text transform="translate(401.8 857) rotate(-90)">1679</text>
<text transform="translate(431.8 857) rotate(-90)">1696/97</text>
<text transform="translate(458.8 857) rotate(-90)">1705</text>
<text transform="translate(473.8 857) rotate(-90)">1714</text>
<text transform="translate(493.8 857) rotate(-90)">1720</text>
<text transform="translate(528.8 857) rotate(-90)">1736</text>
<text transform="translate(590.8 857) rotate(-90)">1759</text>
<text transform="translate(636.8 857) rotate(-90)">1779</text>
<text transform="translate(648.8 857) rotate(-90)">1784/85</text>
<text transform="translate(660.8 857) rotate(-90)">1787</text>
<text transform="translate(698.8 857) rotate(-90)">1803</text>
<text transform="translate(728.8 857) rotate(-90)">1816</text>
<text transform="translate(738.8 857) rotate(-90)">1819</text>
<text transform="translate(770.8 857) rotate(-90)">1833</text>
<text transform="translate(800.8 857) rotate(-90)">1846</text>
<text transform="translate(850.8 857) rotate(-90)">1866</text>
<text transform="translate(898.8 857) rotate(-90)">1885</text>
<text transform="translate(923.8 857) rotate(-90)">1897</text>
<text transform="translate(945.8 857) rotate(-90)">1905</text>
<text transform="translate(970.8 857) rotate(-90)">1916</text>
<text transform="translate(995.8 857) rotate(-90)">1927</text>
<text transform="translate(1013.8 857) rotate(-90)">1934</text>
<text transform="translate(1022.8 857) rotate(-90)">1937</text>
<text transform="translate(1063.8 857) rotate(-90)">1954</text>
<text transform="translate(1071.8 857) rotate(-90)">1956</text>
<text transform="translate(1090.8 857) rotate(-90)">1967</text>
</g>
<g class="f9">
<text transform="translate(1110.4 857) rotate(-90)">1975</text>
<text transform="translate(1118.4 857) rotate(-90)">1977</text>
<text transform="translate(1128.4 857) rotate(-90)">1980</text>
<text transform="translate(1138.4 857) rotate(-90)">1982</text>
<text transform="translate(1150.4 857) rotate(-90)">1988</text>
<text transform="translate(1158.4 857) rotate(-90)">1991</text>
<text transform="translate(1166.4 857) rotate(-90)">1997</text>
<text transform="translate(1175.4 857) rotate(-90)">1999</text>
<text transform="translate(1183.4 857) rotate(-90)">2001</text>
<text transform="translate(1191.4 857) rotate(-90)">2005</text>
<text transform="translate(1198.4 857) rotate(-90)">2008</text>
<text transform="translate(1205.4 857) rotate(-90)">2011</text>
</g>
<g class="f12">
<text class="e f115" transform="translate(192.1 881) rotate(-90)">Ghargaon/Gajala, IX</text>
<text class="e" transform="translate(301.3 881) rotate(-90)">Upper Assam</text>
<text class="e" transform="translate(319.3 881) rotate(-90)">Upper Assam, III</text>
<text class="e" transform="translate(337.3 881) rotate(-90)">Bijapur, III</text>
<text class="e" transform="translate(356.3 881) rotate(-90)">Surat, III; Kajali, V</text>
<text class="e" transform="translate(371.3 881) rotate(-90)">Garh Mandaran, IX;Srinagar, IV</text>
<text class="e" transform="translate(382.3 983) rotate(-90)">(Bengal)</text>
<text class="e" transform="translate(384.3 881) rotate(-90)">Ghittagong</text>
<text class="e" transform="translate(394.3 881) rotate(-90)">Srinagar, VIII</text>
<text class="e" transform="translate(407.3 881) rotate(-90)">Madras, Coromandal, IV</text>
<text class="e" transform="translate(434.3 881) rotate(-90)">Sadiya, X</text>
<text class="e" transform="translate(457.3 881) rotate(-90)">Gogo (Gujarat), XI</text>
<text class="e" transform="translate(474.3 881) rotate(-90)">Tingkhang, Charaideo, IV</text>
<text class="e" transform="translate(527.3 881) rotate(-90)">Srinagar, VIII</text>
<text class="e" transform="translate(591.3 881) rotate(-90)">Rangpur</text>
<text class="e" transform="translate(637.3 881) rotate(-90)">Srinagar, VII</text>
<text class="e" transform="translate(649.3 881) rotate(-90)">Malabar;Srinagar, VIII</text>
<text class="e" transform="translate(661.3 881) rotate(-90)">Sirajganj (Bangladesh); XI</text>
</g>
<g class="f115">
<text class="e" transform="translate(246.1 881) rotate(-90)">M6.9</text>
<text class="e" transform="translate(494.1 881) rotate(-90)">M6.5</text>
<text class="e" transform="translate(699.1 881) rotate(-90)">M6.5</text>
<text class="e" transform="translate(729.1 881) rotate(-90)">M8.0</text>
<text class="e" transform="translate(739.1 881) rotate(-90)">M8.3</text>
<text class="e" transform="translate(771.1 881) rotate(-90)">M8.0</text>
<text class="e" transform="translate(801.1 881) rotate(-90)">M6.5</text>
<text class="e" transform="translate(851.1 881) rotate(-90)">M7.0</text>
<text class="e" transform="translate(899.1 881) rotate(-90)">M7.0</text>
<text class="e" transform="translate(924.1 881) rotate(-90)">M8.3</text>
<text class="e" transform="translate(946.1 881) rotate(-90)">M8.0</text>
<text class="e" transform="translate(971.1 881) rotate(-90)">M7.5</text>
<text class="e" transform="translate(996.1 881) rotate(-90)">M6.5</text>
<text class="e" transform="translate(1014.1 881) rotate(-90)">M8.2</text>
<text class="e" transform="translate(1024.1 881) rotate(-90)">M6.5</text>
<text class="e" transform="translate(1064.1 881) rotate(-90)">M6.7</text>
<text class="e" transform="translate(1072.1 881) rotate(-90)">M7.0</text>
<text class="e" transform="translate(1091.1 881) rotate(-90)">M6.5</text>
<text class="e f105" transform="translate(1111.8 881) rotate(-90)">M6.8/6.7</text>
</g>
<g class="f9">
<text class="e" transform="translate(1120.4 881) rotate(-90)">M6.5</text>
<text class="e" transform="translate(1130.4 881) rotate(-90)">M6.6</text>
<text class="e" transform="translate(1137.4 912) rotate(-90)">M6.5</text>
<text class="e" transform="translate(1150.4 881) rotate(-90)">M6.8</text>
<text class="e" transform="translate(1155.4 922) rotate(-90)">M6.8</text>
<text class="e" transform="translate(1168.4 881) rotate(-90)">M7.1</text>
<text class="e" transform="translate(1173.4 922) rotate(-90)">M6.6</text>
<text class="e" transform="translate(1183.4 881) rotate(-90)">M7.7</text>
<text class="e" transform="translate(1195.4 881) rotate(-90)">M7.6</text>
<text class="e" transform="translate(1201.4 922) rotate(-90)">M6.7</text>
<text class="e" transform="translate(1208.4 881) rotate(-90)">M6.9</text>
</g>
</g>

<g id="new-madrid">
<circle cx="438" cy="1088" r="12" fill="#000"/>
<circle cx="711" cy="1088" r="13" fill="#f00"/>
<circle cx="917" cy="1088" r="12" fill="#000"/>
<text class="f15 m" x="438" y="1117">M?</text>
<text class="f15 m" x="713" y="1117">M8.1</text>
<text class="f15 m" x="917" y="1117">M6.6</text>
</g>

<g id="other-quakes">
<circle cx="212" cy="1185" r="9.5"/>
<circle cx="356" cy="1185" r="9.5"/>
<circle cx="407" cy="1185" r="12" fill="#f00"/>
<circle cx="441" cy="1185" r="12" fill="#f00"/>
<circle cx="503" cy="1185" r="9.5"/>
<circle cx="513" cy="1185" r="9.5"/>
<circle cx="530" cy="1185" r="9.5"/>
<circle cx="550" cy="1185" r="9.5"/>
<circle cx="567" cy="1185" r="9.5"/>
<circle cx="577" cy="1185" r="9.5"/>
<circle cx="678" cy="1185" r="9.5"/>
<circle cx="712" cy="1185" r="12.5" fill="#f00"/>
<circle cx="746" cy="1185" r="12.5" fill="#f00"/>
<circle cx="765" cy="1185" r="12.5" fill="#f00"/>
<circle cx="820" cy="1185" r="9.5"/>
<circle cx="835" cy="1185" r="9.5"/>
<circle cx="873" cy="1185" r="9.5"/>
<circle cx="854" cy="1185" r="13" fill="#f00"/>
<circle cx="927" cy="1185" r="9.5"/>
<circle cx="1053" cy="1185" r="12.5" fill="#f00"/>
<circle cx="1073" cy="1185" r="12.5" fill="#f00"/>
<circle cx="1083" cy="1185" r="12.5" fill="#f00"/>
<circle cx="1177" cy="1185" r="12.5" fill="#f00"/>
<g class="f15">
<text transform="translate(217.2 1172) rotate(-90)">1604</text>
<text transform="translate(361.2 1172) rotate(-90)">1668</text>
<text transform="translate(412.2 1172) rotate(-90)">1687</text>
<text transform="translate(446.2 1172) rotate(-90)">1700</text>
<text transform="translate(503.2 1172) rotate(-90)">1727</text>
<text transform="translate(518.2 1172) rotate(-90)">1730</text>
<text transform="translate(535.2 1172) rotate(-90)">1737</text>
<text transform="translate(558.2 1172) rotate(-90)">1746</text>
<text transform="translate(573.2 1172) rotate(-90)">1751</text>
<text transform="translate(587.2 1172) rotate(-90)">1755</text>
<text transform="translate(686.2 1172) rotate(-90)">1797</text>
<text transform="translate(722.2 1172) rotate(-90)">1811-12</text>
<text transform="translate(751.2 1172) rotate(-90)">1827</text>
<text transform="translate(771.2 1172) rotate(-90)">1833</text>
<text transform="translate(825.2 1172) rotate(-90)">1855</text>
<text transform="translate(840.2 1172) rotate(-90)">1861</text>
<text transform="translate(859.2 1172) rotate(-90)">1868</text>
<text transform="translate(878.2 1172) rotate(-90)">1877</text>
<text transform="translate(932.2 1172) rotate(-90)">1899</text>
<text transform="translate(1058.2 1172) rotate(-90)">1952</text>
<text transform="translate(1075.2 1172) rotate(-90)">1960</text>
<text transform="translate(1088.2 1172) rotate(-90)">1964</text>
<text transform="translate(1182.2 1172) rotate(-90)">2004</text>
</g>
<g class="f145">
<text class="e" transform="translate(217.2 1199) rotate(-90)">Arica, Chile (M8.5)</text>
<text class="e" transform="translate(361.2 1199) rotate(-90)">Anatolia, Turkey (M8.0)</text>
<text class="e" transform="translate(412.2 1199) rotate(-90)">Lima, Peru (M9.0)</text>
<text class="e" transform="translate(446.2 1199) rotate(-90)">Cascadia (M9.0)</text>
<text class="e" transform="translate(503.2 1199) rotate(-90)">Tabriz, Iran (VIII)</text>
<text class="e" transform="translate(518.2 1199) rotate(-90)">Valparaiso, Chile (M8.7)</text>
<text class="e" transform="translate(535.2 1199) rotate(-90)">Kamchatka, Russia (M8.3)</text>
<text class="e" transform="translate(557.2 1199) rotate(-90)">Lima-Callao, Peru(M8.6-8.8)</text>
<text class="e" transform="translate(572.2 1199) rotate(-90)">Conception, Chile (M8.5)</text>
<text class="e" transform="translate(587.2 1199) rotate(-90)">Lisbon, Portugal (M8.7)</text>
<text class="e" transform="translate(683.2 1199) rotate(-90)">Sumatra, Indonesia (M8.4)</text>
<text class="e" transform="translate(708.2 1199) rotate(-90)">New Madrid, USA (M8.1)</text>
<text class="e" transform="translate(723.2 1199) rotate(-90)">Venezuella,  (M9.6)</text>
<text class="e" transform="translate(751.2 1199) rotate(-90)">Columbia (M9.7)</text>
<text class="e f135" transform="translate(770 1199) rotate(-90)">Sumatra, Indonesia (M8.8-9.2)</text>
<text class="e" transform="translate(825.2 1199) rotate(-90)">Airarapa, New Zealand (M8.0)</text>
<text class="e" transform="translate(840.2 1199) rotate(-90)">Sumatra, Indonesia (M8.5)</text>
<text class="e" transform="translate(857.2 1199) rotate(-90)">Arica, Chile (M9.0)</text>
<text class="e" transform="translate(877.2 1199) rotate(-90)">Iquique, Chile (M8.8)</text>
<text class="e" transform="translate(930.2 1199) rotate(-90)">Yakuta Bay, Alaska (M8.0)</text>
<text class="e" transform="translate(1058.2 1199) rotate(-90)">Kamchatka (M9.0)</text>
<text class="e" transform="translate(1075.2 1199) rotate(-90)">Chile (M9.5)</text>
<text class="e" transform="translate(1090.2 1199) rotate(-90)">Alaska (M9.2)</text>
<text class="e" transform="translate(1182.2 1199) rotate(-90)">Sumatra (M9.1)</text>
</g>
</g>
</svg>
